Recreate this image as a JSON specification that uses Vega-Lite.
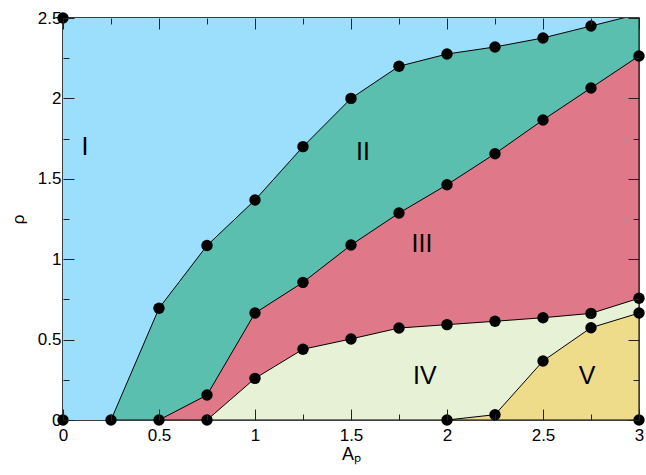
{
  "$schema": "https://vega.github.io/schema/vega-lite/v6.json",
  "width": 576,
  "height": 402,
  "autosize": {"type": "none"},
  "padding": {"left": 63, "top": 18, "right": 7, "bottom": 55},
  "background": "white",
  "config": {
    "view": {"stroke": "black", "strokeWidth": 1.5},
    "font": "Liberation Sans"
  },
  "datasets": {
    "bounds": [
      {"b": "top", "x": 0, "y": 2.5, "kind": "edge"},
      {"b": "top", "x": 3.0, "y": 2.5, "kind": "edge"},
      {"b": "I-II", "x": 0.25, "y": 0, "kind": "measured"},
      {"b": "I-II", "x": 0.5, "y": 0.695, "kind": "measured"},
      {"b": "I-II", "x": 0.75, "y": 1.085, "kind": "measured"},
      {"b": "I-II", "x": 1.0, "y": 1.368, "kind": "measured"},
      {"b": "I-II", "x": 1.25, "y": 1.70, "kind": "measured"},
      {"b": "I-II", "x": 1.5, "y": 2.0, "kind": "measured"},
      {"b": "I-II", "x": 1.75, "y": 2.2, "kind": "measured"},
      {"b": "I-II", "x": 2.0, "y": 2.276, "kind": "measured"},
      {"b": "I-II", "x": 2.25, "y": 2.32, "kind": "measured"},
      {"b": "I-II", "x": 2.5, "y": 2.376, "kind": "measured"},
      {"b": "I-II", "x": 2.75, "y": 2.45, "kind": "measured"},
      {"b": "I-II", "x": 3.0, "y": 2.525, "kind": "edge"},
      {"b": "II-III", "x": 0.5, "y": 0, "kind": "measured"},
      {"b": "II-III", "x": 0.75, "y": 0.155, "kind": "measured"},
      {"b": "II-III", "x": 1.0, "y": 0.665, "kind": "measured"},
      {"b": "II-III", "x": 1.25, "y": 0.856, "kind": "measured"},
      {"b": "II-III", "x": 1.5, "y": 1.088, "kind": "measured"},
      {"b": "II-III", "x": 1.75, "y": 1.287, "kind": "measured"},
      {"b": "II-III", "x": 2.0, "y": 1.463, "kind": "measured"},
      {"b": "II-III", "x": 2.25, "y": 1.656, "kind": "measured"},
      {"b": "II-III", "x": 2.5, "y": 1.866, "kind": "measured"},
      {"b": "II-III", "x": 2.75, "y": 2.065, "kind": "measured"},
      {"b": "II-III", "x": 3.0, "y": 2.264, "kind": "measured"},
      {"b": "III-IV", "x": 0.75, "y": 0, "kind": "measured"},
      {"b": "III-IV", "x": 1.0, "y": 0.259, "kind": "measured"},
      {"b": "III-IV", "x": 1.25, "y": 0.44, "kind": "measured"},
      {"b": "III-IV", "x": 1.5, "y": 0.504, "kind": "measured"},
      {"b": "III-IV", "x": 1.75, "y": 0.572, "kind": "measured"},
      {"b": "III-IV", "x": 2.0, "y": 0.593, "kind": "measured"},
      {"b": "III-IV", "x": 2.25, "y": 0.614, "kind": "measured"},
      {"b": "III-IV", "x": 2.5, "y": 0.636, "kind": "measured"},
      {"b": "III-IV", "x": 2.75, "y": 0.663, "kind": "measured"},
      {"b": "III-IV", "x": 3.0, "y": 0.757, "kind": "measured"},
      {"b": "IV-V", "x": 2.0, "y": 0, "kind": "measured"},
      {"b": "IV-V", "x": 2.25, "y": 0.033, "kind": "measured"},
      {"b": "IV-V", "x": 2.5, "y": 0.367, "kind": "measured"},
      {"b": "IV-V", "x": 2.75, "y": 0.574, "kind": "measured"},
      {"b": "IV-V", "x": 3.0, "y": 0.665, "kind": "measured"},
      {"b": "corner", "x": 0, "y": 0, "kind": "measured"},
      {"b": "corner", "x": 0, "y": 2.5, "kind": "measured"},
      {"b": "corner", "x": 3.0, "y": 0, "kind": "measured"}
    ],
    "labels": [
      {"label": "I", "x": 0.115, "y": 1.70},
      {"label": "II", "x": 1.5625, "y": 1.667},
      {"label": "III", "x": 1.87, "y": 1.095},
      {"label": "IV", "x": 1.885, "y": 0.274},
      {"label": "V", "x": 2.73, "y": 0.274}
    ]
  },
  "resolve": {"axis": {"x": "independent", "y": "independent"}},
  "layer": [
    {
      "data": {"name": "bounds"},
      "transform": [{"filter": "datum.b === 'top'"}],
      "mark": {"type": "area", "fill": "#9bdffd", "stroke": null, "clip": true},
      "encoding": {
        "x": {"field": "x", "type": "quantitative",
          "scale": {"domain": [0, 3], "nice": false},
          "axis": null},
        "y": {"field": "y", "type": "quantitative", "stack": null,
          "scale": {"domain": [0, 2.5], "nice": false},
          "axis": null}
      }
    },
    {
      "data": {"name": "bounds"},
      "transform": [{"filter": "datum.b === 'I-II'"}],
      "mark": {"type": "area", "fill": "#5abfae", "fillOpacity": 1, "stroke": "black", "strokeWidth": 1, "clip": true},
      "encoding": {
        "x": {"field": "x", "type": "quantitative",
          "axis": {"orient": "bottom", "title": "Aₚ", "zindex": 3, "values": [0, 0.25, 0.5, 0.75, 1, 1.25, 1.5, 1.75, 2, 2.25, 2.5, 2.75, 3],
            "labelExpr": "datum.value % 0.5 === 0 ? format(datum.value, '~g') : ''",
            "domain": false, "grid": false, "tickColor": "#222222", "tickWidth": 1,
            "tickSize": {"condition": {"test": "datum.value % 0.5 === 0", "value": -11}, "value": -6},
            "labelFont": "Liberation Sans", "labelFontSize": 17, "labelColor": "black", "labelPadding": 18,
            "labelFlush": false, "labelOverlap": false,
            "titleFont": "Liberation Sans", "titleFontSize": 18, "titleFontWeight": "normal", "titleColor": "black", "titlePadding": -3}},
        "y": {"field": "y", "type": "quantitative", "stack": null,
          "axis": {"orient": "left", "title": "ρ", "zindex": 3, "values": [0, 0.25, 0.5, 0.75, 1, 1.25, 1.5, 1.75, 2, 2.25, 2.5],
            "labelExpr": "datum.value % 0.5 === 0 ? format(datum.value, '~g') : ''",
            "domain": false, "grid": false, "tickColor": "#222222", "tickWidth": 1,
            "tickSize": {"condition": {"test": "datum.value % 0.5 === 0", "value": -11}, "value": -6},
            "labelFont": "Liberation Sans", "labelFontSize": 17, "labelColor": "black", "labelPadding": 13,
            "labelFlush": false, "labelOverlap": false,
            "titleFont": "Liberation Sans", "titleFontSize": 17, "titleFontWeight": "normal", "titleColor": "black", "titlePadding": 10}}
      }
    },
    {
      "data": {"name": "bounds"},
      "transform": [{"filter": "datum.b === 'II-III'"}],
      "mark": {"type": "area", "fill": "#df7888", "fillOpacity": 1, "stroke": "black", "strokeWidth": 1, "clip": true},
      "encoding": {
        "x": {"field": "x", "type": "quantitative",
          "axis": {"orient": "top", "title": null, "zindex": 3, "values": [0, 0.25, 0.5, 0.75, 1, 1.25, 1.5, 1.75, 2, 2.25, 2.5, 2.75, 3],
            "labels": false, "domain": false, "grid": false, "tickColor": "#222222", "tickWidth": 1,
            "tickSize": {"condition": {"test": "datum.value % 0.5 === 0", "value": -11}, "value": -6}}},
        "y": {"field": "y", "type": "quantitative", "stack": null,
          "axis": {"orient": "right", "title": null, "zindex": 3, "values": [0, 0.25, 0.5, 0.75, 1, 1.25, 1.5, 1.75, 2, 2.25, 2.5],
            "labels": false, "domain": false, "grid": false, "tickColor": "#222222", "tickWidth": 1,
            "tickSize": {"condition": {"test": "datum.value % 0.5 === 0", "value": -11}, "value": -6}}}
      }
    },
    {
      "data": {"name": "bounds"},
      "transform": [{"filter": "datum.b === 'III-IV'"}],
      "mark": {"type": "area", "fill": "#e7f1d6", "fillOpacity": 1, "stroke": "black", "strokeWidth": 1, "clip": true},
      "encoding": {
        "x": {"field": "x", "type": "quantitative", "axis": null},
        "y": {"field": "y", "type": "quantitative", "stack": null, "axis": null}
      }
    },
    {
      "data": {"name": "bounds"},
      "transform": [{"filter": "datum.b === 'IV-V'"}],
      "mark": {"type": "area", "fill": "#efdc8a", "fillOpacity": 1, "stroke": "black", "strokeWidth": 1, "clip": true},
      "encoding": {
        "x": {"field": "x", "type": "quantitative", "axis": null},
        "y": {"field": "y", "type": "quantitative", "stack": null, "axis": null}
      }
    },
    {
      "data": {"name": "bounds"},
      "transform": [{"filter": "datum.kind === 'measured'"}],
      "mark": {"type": "point", "filled": true, "color": "black", "opacity": 1, "size": 130, "clip": false},
      "encoding": {
        "x": {"field": "x", "type": "quantitative", "axis": null},
        "y": {"field": "y", "type": "quantitative", "axis": null}
      }
    },
    {
      "data": {"name": "labels"},
      "mark": {"type": "text", "font": "Liberation Sans", "fontSize": 25, "color": "black", "align": "center", "baseline": "middle"},
      "encoding": {
        "x": {"field": "x", "type": "quantitative", "axis": null},
        "y": {"field": "y", "type": "quantitative", "axis": null},
        "text": {"field": "label"}
      }
    }
  ]
}
